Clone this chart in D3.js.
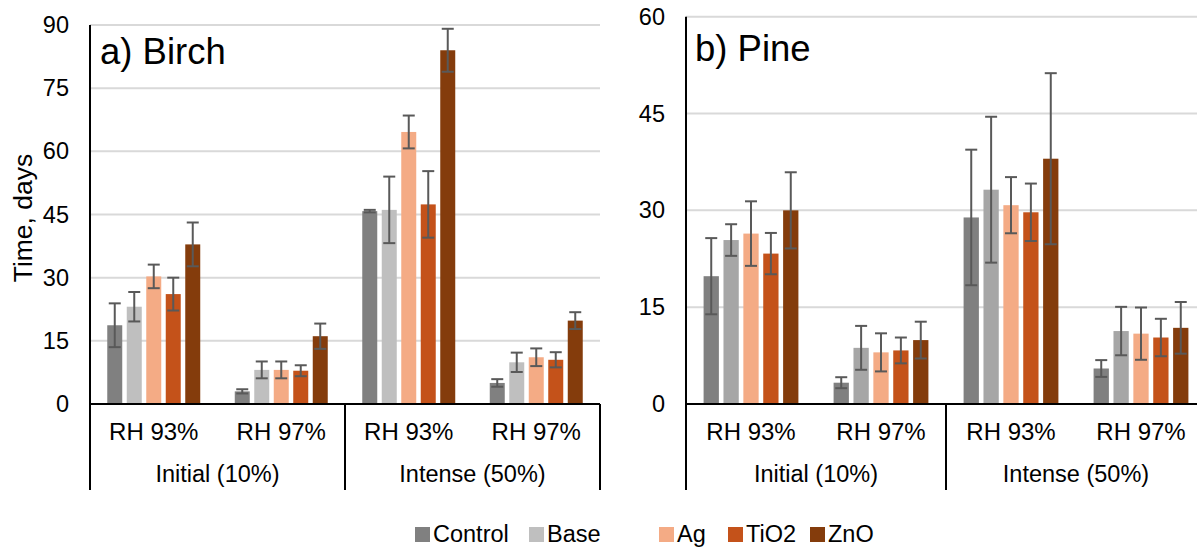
<!DOCTYPE html>
<html>
<head>
<meta charset="utf-8">
<script src="https://cdn.jsdelivr.net/npm/d3@7"></script>
<style>
  body { margin: 0; background: #fff; }
  svg { display: block; font-family: "Liberation Sans", Arial, sans-serif; }
</style>
</head>
<body>
<div class="visContainer"></div>
<script>
// Data.
const stages = ['Initial (10%)', 'Intense (50%)'];
const humidity = ['RH 93%', 'RH 97%'];
const series = ['Control', 'Base', 'Ag', 'TiO2', 'ZnO'];

// Birch, days (order: Initial 93, Initial 97, Intense 93, Intense 97).
const birchControl = [18.7, 3.0, 45.8, 5.0];
const birchBase = [23.1, 8.1, 46.1, 9.9];
const birchAg = [30.3, 8.1, 64.6, 11.1];
const birchTiO2 = [26.1, 7.9, 47.4, 10.5];
const birchZnO = [37.9, 16.1, 84.0, 19.8];
const birchControlErr = [5.2, 0.5, 0.3, 0.9];
const birchBaseErr = [3.5, 2.0, 7.9, 2.3];
const birchAgErr = [2.8, 2.0, 3.9, 2.1];
const birchTiO2Err = [3.9, 1.3, 7.9, 1.8];
const birchZnOErr = [5.2, 3.0, 5.1, 2.0];

// Pine, days.
const pineControl = [19.8, 3.3, 28.9, 5.5];
const pineBase = [25.4, 8.7, 33.2, 11.3];
const pineAg = [26.4, 8.0, 30.8, 10.9];
const pineTiO2 = [23.3, 8.3, 29.7, 10.3];
const pineZnO = [30.0, 9.9, 38.0, 11.8];
const pineControlErr = [5.9, 0.85, 10.5, 1.3];
const pineBaseErr = [2.45, 3.4, 11.3, 3.75];
const pineAgErr = [5.0, 2.95, 4.35, 4.05];
const pineTiO2Err = [3.2, 2.0, 4.45, 2.9];
const pineZnOErr = [5.9, 2.85, 13.25, 4.0];

const birchTicks = [0, 15, 30, 45, 60, 75, 90];
const pineTicks = [0, 15, 30, 45, 60];

// SVG constants.
const width = 1197;
const height = 547;
const baseY = 404;
const axisBottom = 490;
const colors = ['#808080', '#bfbfbf', '#f4ab85', '#c4521a', '#843c0c'];

const svg = d3.select('.visContainer')
              .append('svg')
              .attr('width', width)
              .attr('height', height);

svg.append('rect').attr('width', width).attr('height', height).attr('fill', '#fff');

const keys = [];
stages.forEach((s) => humidity.forEach((h) => keys.push(s + '|' + h)));

function drawPanel(opt) {
    const g = svg.append('g');

    const x0 = d3.scaleBand()
                 .domain(keys)
                 .range([opt.left, opt.right]);

    const x1 = d3.scaleBand()
                 .domain(series)
                 .range([0, x0.bandwidth()])
                 .paddingInner(0.231)
                 .paddingOuter(0.885);

    const y = d3.scaleLinear()
                .domain([0, opt.max])
                .range([baseY, opt.top]);

    // Gridlines.
    g.selectAll('.grid')
     .data(opt.ticks.filter((t) => t > 0))
     .enter()
     .append('line')
     .attr('x1', opt.left)
     .attr('x2', opt.right)
     .attr('y1', (d) => y(d))
     .attr('y2', (d) => y(d))
     .attr('stroke', '#d9d9d9')
     .attr('stroke-width', 2);

    // Tick labels.
    g.selectAll('.tick-label')
     .data(opt.ticks)
     .enter()
     .append('text')
     .attr('x', opt.left - 21)
     .attr('y', (d) => y(d))
     .attr('text-anchor', 'end')
     .attr('dominant-baseline', 'central')
     .attr('font-size', 23.5)
     .attr('fill', '#000')
     .text((d) => d);

    // Bars.
    const rows = [];
    opt.values.forEach((vals, si) => {
        vals.forEach((v, ci) => {
            rows.push({ key: keys[ci], s: series[si], si: si, v: v, e: opt.errors[si][ci] });
        });
    });

    g.selectAll('.bar')
     .data(rows)
     .enter()
     .append('rect')
     .attr('x', (d) => x0(d.key) + x1(d.s))
     .attr('y', (d) => y(d.v))
     .attr('width', x1.bandwidth())
     .attr('height', (d) => baseY - y(d.v))
     .attr('fill', (d) => d.si === 1 ? opt.baseColor : colors[d.si]);

    // Error bars.
    const cap = 6;
    const cx = (d) => x0(d.key) + x1(d.s) + x1.bandwidth() / 2;
    const err = g.selectAll('.err')
                 .data(rows)
                 .enter()
                 .append('g')
                 .attr('stroke', '#595959')
                 .attr('stroke-width', 2);
    err.append('line')
       .attr('x1', cx)
       .attr('x2', cx)
       .attr('y1', (d) => y(d.v + d.e))
       .attr('y2', (d) => y(d.v - d.e));
    err.append('line')
       .attr('x1', (d) => cx(d) - cap)
       .attr('x2', (d) => cx(d) + cap)
       .attr('y1', (d) => y(d.v + d.e))
       .attr('y2', (d) => y(d.v + d.e));
    err.append('line')
       .attr('x1', (d) => cx(d) - cap)
       .attr('x2', (d) => cx(d) + cap)
       .attr('y1', (d) => y(d.v - d.e))
       .attr('y2', (d) => y(d.v - d.e));

    // Axes.
    g.append('line')
     .attr('x1', opt.left).attr('x2', opt.left)
     .attr('y1', opt.top).attr('y2', axisBottom)
     .attr('stroke', '#000').attr('stroke-width', 2);
    g.append('line')
     .attr('x1', opt.left - 1).attr('x2', opt.right)
     .attr('y1', baseY).attr('y2', baseY)
     .attr('stroke', '#000').attr('stroke-width', 2);
    [x0(keys[2]), opt.right].forEach((xv) => {
        g.append('line')
         .attr('x1', xv).attr('x2', xv)
         .attr('y1', baseY).attr('y2', axisBottom)
         .attr('stroke', '#000').attr('stroke-width', 2);
    });

    // Category labels.
    g.selectAll('.cat')
     .data(keys)
     .enter()
     .append('text')
     .attr('x', (d) => x0(d) + x0.bandwidth() / 2)
     .attr('y', 440)
     .attr('text-anchor', 'middle')
     .attr('font-size', 24)
     .text((d) => d.split('|')[1]);

    g.selectAll('.stage')
     .data(stages)
     .enter()
     .append('text')
     .attr('x', (d, i) => x0(keys[i * 2]) + x0.bandwidth())
     .attr('y', 482)
     .attr('text-anchor', 'middle')
     .attr('font-size', 23.5)
     .text((d) => d);

    // Panel title.
    g.append('text')
     .attr('x', opt.titleX)
     .attr('y', opt.titleY)
     .attr('font-size', 36.5)
     .text(opt.title);
}

drawPanel({
    left: 90, right: 600, top: 25, max: 90, ticks: birchTicks,
    title: 'a) Birch', titleX: 100, titleY: 64, baseColor: '#bfbfbf',
    values: [birchControl, birchBase, birchAg, birchTiO2, birchZnO],
    errors: [birchControlErr, birchBaseErr, birchAgErr, birchTiO2Err, birchZnOErr]
});

drawPanel({
    left: 686, right: 1206, top: 16.7, max: 60, ticks: pineTicks,
    title: 'b) Pine', titleX: 695, titleY: 61, baseColor: '#a6a6a6',
    values: [pineControl, pineBase, pineAg, pineTiO2, pineZnO],
    errors: [pineControlErr, pineBaseErr, pineAgErr, pineTiO2Err, pineZnOErr]
});

// Y axis title.
svg.append('text')
   .attr('transform', 'translate(32,218) rotate(-90)')
   .attr('text-anchor', 'middle')
   .attr('font-size', 26.5)
   .text('Time, days');

// Legend.
const legendX = [415, 529, 659, 728, 810];
const legend = svg.selectAll('.legend-item')
                  .data(series)
                  .enter()
                  .append('g')
                  .attr('transform', (d, i) => 'translate(' + legendX[i] + ',527)');
legend.append('rect')
      .attr('width', 15)
      .attr('height', 15)
      .attr('fill', (d, i) => colors[i]);
legend.append('text')
      .attr('x', 18)
      .attr('y', 15)
      .attr('font-size', 23.5)
      .text((d) => d);
</script>
</body>
</html>
